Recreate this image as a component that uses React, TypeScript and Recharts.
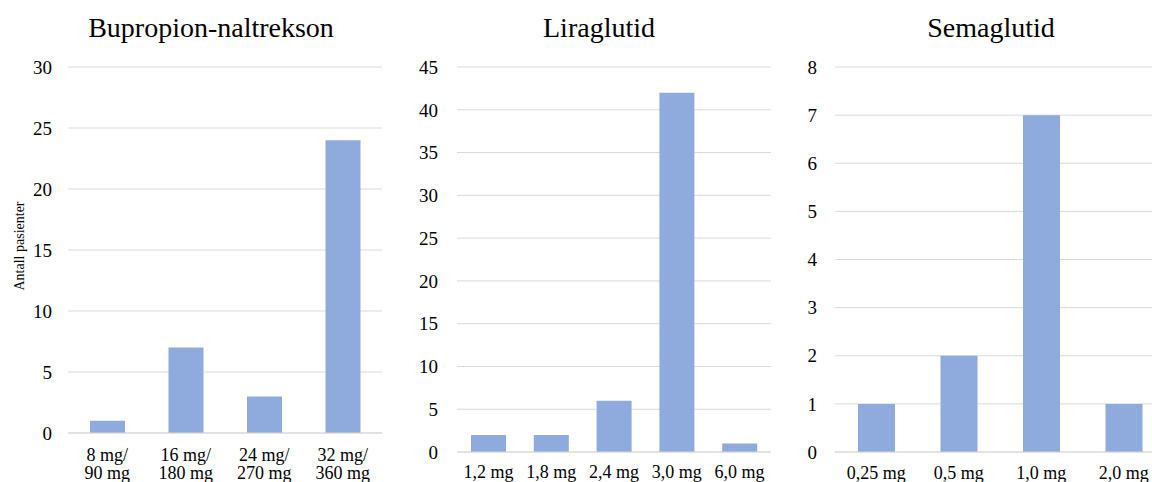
import { BarChart, Bar, XAxis, YAxis, CartesianGrid } from 'recharts'

const FONT = '"Liberation Serif", "Times New Roman", serif'
const BAR = '#8FAADC'
const GRID = '#D9D9D9'

// Bupropion-naltrekson
const bupDoses = ['8 mg/\n90 mg', '16 mg/\n180 mg', '24 mg/\n270 mg', '32 mg/\n360 mg']
const bupCounts = [1, 7, 3, 24]
const bupTicks = [0, 5, 10, 15, 20, 25, 30]

// Liraglutid
const liraDoses = ['1,2 mg', '1,8 mg', '2,4 mg', '3,0 mg', '6,0 mg']
const liraCounts = [2, 2, 6, 42, 1]
const liraTicks = [0, 5, 10, 15, 20, 25, 30, 35, 40, 45]

// Semaglutid
const semaDoses = ['0,25 mg', '0,5 mg', '1,0 mg', '2,0 mg']
const semaCounts = [1, 2, 7, 1]
const semaTicks = [0, 1, 2, 3, 4, 5, 6, 7, 8]

const yLabel = 'Antall pasienter'

function DoseTick({ x, y, payload }: any) {
  const lines = String(payload.value).split('\n')
  return (
    <text x={x} y={y} textAnchor="middle" fontSize={18} fontFamily={FONT} fill="#000">
      {lines.map((l, i) => (
        <tspan key={i} x={x} dy={i === 0 ? 0 : 18}>{l}</tspan>
      ))}
    </text>
  )
}

interface PanelProps {
  doses: string[]
  counts: number[]
  ticks: number[]
  left: number
  width: number
  plotLeft: number
  plotRight: number
  plotBottom: number
  barSize: number
  gap: number
  labelOffset: number
}

function Panel({ doses, counts, ticks, left, width, plotLeft, plotRight, plotBottom, barSize, gap, labelOffset }: PanelProps) {
  const data = doses.map((d, i) => ({ dose: d, n: counts[i] }))
  const height = 482
  return (
    <div style={{ position: 'absolute', left, top: 0 }}>
      <BarChart
        width={width}
        height={height}
        data={data}
        margin={{ top: 67, right: width - plotRight, left: 0, bottom: 0 }}
      >
        <CartesianGrid vertical={false} stroke={GRID} />
        <XAxis
          dataKey="dose"
          height={height - plotBottom}
          axisLine={{ stroke: GRID }}
          tickLine={false}
          tickSize={0}
          tickMargin={labelOffset}
          interval={0}
          tick={<DoseTick />}
        />
        <YAxis
          width={plotLeft}
          domain={[ticks[0], ticks[ticks.length - 1]]}
          ticks={ticks}
          axisLine={false}
          tickLine={false}
          tickSize={0}
          tickMargin={gap}
          tick={{ fill: '#000', fontSize: 19, fontFamily: FONT }}
        />
        <Bar dataKey="n" fill={BAR} barSize={barSize} isAnimationActive={false} />
      </BarChart>
    </div>
  )
}

export default function App() {
  return (
    <div style={{ position: 'relative', width: 1152, height: 482, overflow: 'hidden', background: '#fff' }}>
      <style>{'html, body { margin: 0; padding: 0; overflow: hidden; }'}</style>
      <Panel doses={bupDoses} counts={bupCounts} ticks={bupTicks}
        left={0} width={400} plotLeft={68} plotRight={382} plotBottom={433}
        barSize={35} gap={16} labelOffset={28} />
      <Panel doses={liraDoses} counts={liraCounts} ticks={liraTicks}
        left={400} width={380} plotLeft={57} plotRight={371} plotBottom={452}
        barSize={35} gap={19} labelOffset={26} />
      <Panel doses={semaDoses} counts={semaCounts} ticks={semaTicks}
        left={780} width={400} plotLeft={55} plotRight={385} plotBottom={452}
        barSize={37} gap={18} labelOffset={27} />
      <svg width={1152} height={482} style={{ position: 'absolute', left: 0, top: 0, pointerEvents: 'none' }}>
        <g fontFamily={FONT} fill="#000" fontSize={28} textAnchor="middle">
          <text x={211} y={37}>Bupropion-naltrekson</text>
          <text x={599} y={37}>Liraglutid</text>
          <text x={991} y={37}>Semaglutid</text>
        </g>
        <text x={24} y={246} transform="rotate(-90 24 246)" textAnchor="middle"
          fontFamily={FONT} fontSize={14} fill="#000">{yLabel}</text>
      </svg>
    </div>
  )
}
